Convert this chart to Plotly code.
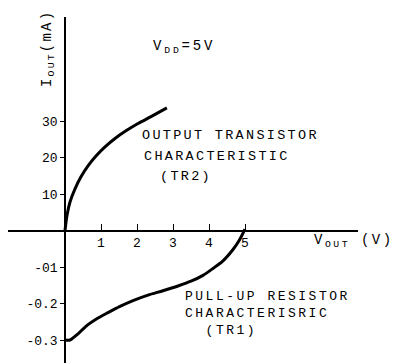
import plotly.graph_objects as go

# ---- data ----
# Output transistor characteristic (TR2): V_OUT [V], I_OUT [mA]
tr2_v = [0.0, 0.056, 0.139, 0.278, 0.444, 0.639, 0.861, 1.111, 1.389, 1.694, 2.028, 2.389, 2.83]
tr2_i = [0.0, 4.2, 7.8, 11.4, 14.7, 17.7, 20.4, 22.9, 25.2, 27.3, 29.3, 31.2, 33.6]

# Pull-up resistor characteristic (TR1): V_OUT [V], I_OUT [axis units -0.1 .. -0.3]
tr1_v = [0.0, 0.139, 0.25, 0.361, 0.5, 0.639, 0.861, 1.194, 1.528, 1.889, 2.306,
         2.722, 3.139, 3.5, 3.833, 4.111, 4.389, 4.667, 4.833, 5.0]
tr1_i = [-0.300, -0.300, -0.292, -0.283, -0.270, -0.258, -0.243, -0.225, -0.208, -0.192,
         -0.177, -0.165, -0.152, -0.139, -0.123, -0.104, -0.083, -0.052, -0.028, 0.004]

x_ticks = [1, 2, 3, 4, 5]
x_tick_labels = ["1", "2", "3", "4", "5"]
y_ticks_pos = [10, 20, 30]
y_tick_pos_labels = ["10", "20", "30"]
y_ticks_neg = [-0.1, -0.2, -0.3]
y_tick_neg_labels = ["-01", "-0.2", "-0.3"]

NEG_SCALE = 100  # negative branch drawn with the same spacing as 10 mA steps

W, H = 395, 363
FONT = "Courier New, Liberation Mono, monospace"

fig = go.Figure()
fig.add_trace(go.Scatter(x=tr2_v, y=tr2_i, mode="lines",
                         line=dict(color="black", width=3, shape="spline", smoothing=0.8),
                         hoverinfo="skip", showlegend=False))
fig.add_trace(go.Scatter(x=tr1_v, y=[v * NEG_SCALE for v in tr1_i], mode="lines",
                         line=dict(color="black", width=3, shape="spline", smoothing=0.8),
                         hoverinfo="skip", showlegend=False))


def P(px, py):
    return px / W, 1 - py / H


annots = []


def add_text(text, px, py, size=14, angle=0, xanchor="left", spacing=2.5, align="left"):
    xp, yp = P(px, py)
    annots.append(dict(text=f"<span style='letter-spacing:{spacing}px'>{text}</span>",
                       x=xp, y=yp, xref="paper", yref="paper",
                       xanchor=xanchor, yanchor="middle", showarrow=False, align=align,
                       textangle=angle, font=dict(family=FONT, size=size, color="black")))


add_text("I<sub>OUT</sub>(mA)", 48, 49, size=14, angle=-90, xanchor="center", spacing=2.2)
add_text("V<sub>DD</sub>=5V", 151, 47, size=14, spacing=2.8)
add_text("OUTPUT TRANSISTOR", 140, 135, size=13.5, spacing=2.3)
add_text("CHARACTERISTIC", 142, 156, size=13.5, spacing=2.3)
add_text("(TR2)", 158, 176, size=13.5, spacing=2.3)
add_text("PULL-UP RESISTOR<br>CHARACTERISRIC<br>\u00a0\u00a0(TR1)", 183, 313, size=13, spacing=2.5)
add_text("V<sub>OUT</sub> (V)", 312, 241, size=14, spacing=2.5)

x0_px, xscale = 65, 36.0
y0_px, yscale = 230.5, 3.65

fig.update_layout(
    width=W, height=H, autosize=False,
    margin=dict(l=0, r=0, t=0, b=0),
    paper_bgcolor="white", plot_bgcolor="white",
    showlegend=False,
    annotations=annots,
    xaxis=dict(
        domain=[8 / W, 358 / W],
        range=[(8 - x0_px) / xscale, (358 - x0_px) / xscale],
        anchor="free", position=(H - y0_px) / H,
        showline=True, linecolor="black", linewidth=1.5,
        showgrid=False, zeroline=False,
        tickmode="array", tickvals=x_ticks, ticktext=x_tick_labels,
        ticks="inside", ticklen=6, tickwidth=1.2, tickcolor="black",
        tickfont=dict(family=FONT, size=13, color="black"),
    ),
    yaxis=dict(
        domain=[0, (H - 17) / H],
        range=[(y0_px - H) / yscale, (y0_px - 17) / yscale],
        anchor="free", position=x0_px / W,
        showline=True, linecolor="black", linewidth=1.5,
        showgrid=False, zeroline=False,
        tickmode="array",
        tickvals=[v * NEG_SCALE for v in y_ticks_neg] + y_ticks_pos,
        ticktext=y_tick_neg_labels + y_tick_pos_labels,
        ticks="outside", ticklen=4, tickwidth=1.2, tickcolor="black",
        tickfont=dict(family=FONT, size=13, color="black"),
    ),
)

fig.write_html("out.html", config={"displayModeBar": False},
               post_script="document.body.style.margin='0';")
